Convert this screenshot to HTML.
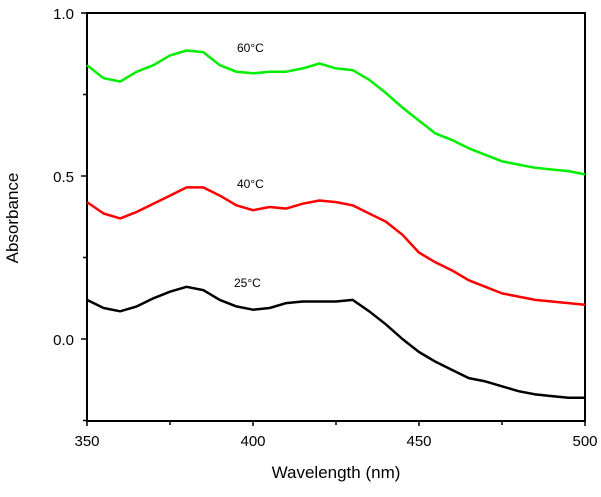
<!DOCTYPE html>
<html><head><meta charset="utf-8"><style>
body{margin:0;background:#fff;}
svg text{font-family:"Liberation Sans",Arial,sans-serif;}
</style></head><body>
<svg id="chart" width="601" height="492"></svg>
<script>
const wavelengths=[350,355,360,365,370,375,380,385,390,395,400,405,410,415,420,425,430,435,440,445,450,455,460,465,470,475,480,485,490,495,500];
const abs60=[0.84,0.80,0.79,0.82,0.84,0.87,0.885,0.88,0.84,0.82,0.815,0.82,0.82,0.83,0.845,0.83,0.825,0.795,0.755,0.71,0.67,0.63,0.61,0.585,0.565,0.545,0.535,0.525,0.52,0.515,0.505];
const abs40=[0.42,0.385,0.37,0.39,0.415,0.44,0.465,0.465,0.44,0.41,0.395,0.405,0.40,0.415,0.425,0.42,0.41,0.385,0.36,0.32,0.265,0.235,0.21,0.18,0.16,0.14,0.13,0.12,0.115,0.11,0.105];
const abs25=[0.12,0.095,0.085,0.10,0.125,0.145,0.16,0.15,0.12,0.10,0.09,0.095,0.11,0.115,0.115,0.115,0.12,0.085,0.045,0.0,-0.04,-0.07,-0.095,-0.12,-0.13,-0.145,-0.16,-0.17,-0.175,-0.18,-0.18];
const xTicks=[350,400,450,500];
const xMinor=[375,425,475];
const yTicks=[0.0,0.5,1.0];
const yMinor=[-0.25,0.25,0.75];
const seriesLabels=["60°C","40°C","25°C"];

const NS="http://www.w3.org/2000/svg";
const svg=document.getElementById('chart');
const L=87,R=585,T=13,B=421;
const xs=v=>L+(v-350)/150*(R-L);
const ys=v=>339-v*326;
function mk(tag,attrs,parent){const e=document.createElementNS(NS,tag);for(const k in attrs)e.setAttribute(k,attrs[k]);(parent||svg).appendChild(e);return e;}

const frame=mk('rect',{x:L,y:T,width:R-L,height:B-T,fill:'none',stroke:'#000','stroke-width':2});



xTicks.forEach(v=>{
  const t=mk('line',{x1:xs(v),x2:xs(v),y1:B,y2:B+5,stroke:'#000','stroke-width':1.5});
  
  
  const tx=mk('text',{x:xs(v),y:B+25,'text-anchor':'middle','font-size':15});
  tx.textContent=v;
  
  
});
xMinor.forEach(v=>{
  const t=mk('line',{x1:xs(v),x2:xs(v),y1:B,y2:B+4,stroke:'#000','stroke-width':1.5});
  
  
});
yTicks.forEach(v=>{
  const t=mk('line',{x1:L-6,x2:L,y1:ys(v),y2:ys(v),stroke:'#000','stroke-width':1.5});
  
  
  const tx=mk('text',{x:L-13,y:ys(v)+6,'text-anchor':'end','font-size':15});
  tx.textContent=v.toFixed(1);
  
  
});
yMinor.forEach(v=>{
  const t=mk('line',{x1:L-4,x2:L,y1:ys(v),y2:ys(v),stroke:'#000','stroke-width':1.5});
  
  
});

const series=[[abs60,'#00ee00','line-60c'],[abs40,'#ff0000','line-40c'],[abs25,'#000000','line-25c']];
series.forEach(s=>{
  const pts=wavelengths.map((w,i)=>xs(w).toFixed(1)+','+ys(s[0][i]).toFixed(1)).join(' ');
  const p=mk('polyline',{points:pts,fill:'none',stroke:s[1],'stroke-width':2.5,'stroke-linejoin':'round'});
  
  
});

const labY=[52,188,287],labX=[237,237,234];
seriesLabels.forEach((s,i)=>{
  const t=mk('text',{x:labX[i],y:labY[i],'font-size':12});
  t.textContent=s;
  
  
});

const xt=mk('text',{x:336,y:478,'text-anchor':'middle','font-size':17});
xt.textContent='Wavelength (nm)';


const yt=mk('text',{x:0,y:0,'text-anchor':'middle','font-size':17,transform:'translate(18,218) rotate(-90)'});
yt.textContent='Absorbance';


</script>
</body></html>
